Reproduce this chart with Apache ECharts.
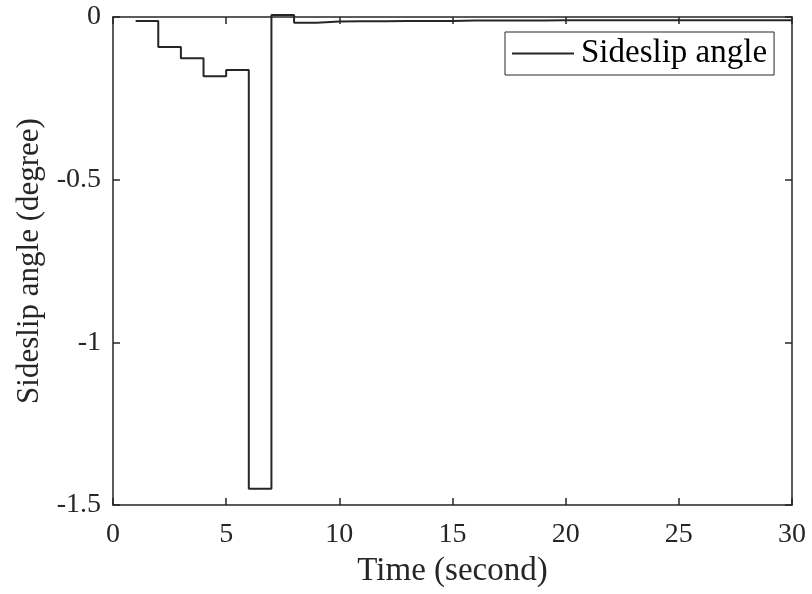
<!DOCTYPE html>
<html>
<head>
<meta charset="utf-8">
<script src="https://cdn.jsdelivr.net/npm/echarts@6/dist/echarts.min.js"></script>
<style>
  html, body { margin: 0; padding: 0; background: #fff; }
  #con { width: 812px; height: 594px; }
</style>
</head>
<body>
<div id="con"></div>
<script>
// time steps (second) and sideslip angle (degree), held constant over each step
var times = [1, 2, 3, 4, 5, 6, 7, 8, 9, 10, 11, 12, 13, 14, 15, 16, 17, 18, 19, 20,
             21, 22, 23, 24, 25, 26, 27, 28, 29, 30];
var sideslip = [-0.012, -0.092, -0.127, -0.182, -0.163, -1.45, 0.006, -0.018, -0.014, -0.013,
                -0.013, -0.012, -0.012, -0.012, -0.011, -0.011, -0.011, -0.011, -0.010, -0.010,
                -0.010, -0.010, -0.010, -0.010, -0.010, -0.010, -0.010, -0.010, -0.010, -0.010];
var xTicks = [0, 30, 5];
var yTicks = [-1.5, 0, 0.5];

var font = 'Liberation Serif';
var axisColor = '#262626';

var points = [];
for (var i = 0; i < times.length; i++) {
    points.push([times[i], sideslip[i]]);
}

var myChart = echarts.init(document.getElementById('con'));

var boxAxis = function(pos, ticks, showLabel, name) {
    return {
        type: 'value',
        position: pos,
        min: ticks[0], max: ticks[1], interval: ticks[2],
        name: name,
        nameLocation: 'middle',
        nameGap: pos === 'bottom' ? 50 : 64,
        nameTextStyle: {fontFamily: font, fontSize: pos === 'bottom' ? 33 : 31, color: axisColor},
        axisLine: {show: true, onZero: false, lineStyle: {color: axisColor, width: 1.5}},
        axisTick: {show: true, inside: true, length: 7, lineStyle: {color: axisColor, width: 1.5}},
        axisLabel: {show: showLabel, fontFamily: font, fontSize: 28, color: axisColor,
                    margin: pos === 'bottom' ? 16 : 12},
        splitLine: {show: false}
    };
};

option = {
    animation: false,
    backgroundColor: '#fff',
    grid: {left: 113, top: 17, right: 20, bottom: 89, containLabel: false},
    legend: {
        data: [{name: 'Sideslip angle', icon: 'rect'}],
        left: 505, top: 32,
        itemWidth: 62, itemHeight: 2,
        itemGap: 6,
        padding: [5, 7, 5, 7],
        borderColor: '#262626', borderWidth: 1,
        textStyle: {fontFamily: font, fontSize: 33, color: '#000', padding: [0, 0, 0, 2]}
    },
    xAxis: [
        boxAxis('bottom', xTicks, true, 'Time (second)'),
        boxAxis('top', xTicks, false, '')
    ],
    yAxis: [
        boxAxis('left', yTicks, true, 'Sideslip angle (degree)'),
        boxAxis('right', yTicks, false, '')
    ],
    series: [{
        name: 'Sideslip angle',
        type: 'line',
        step: 'end',
        data: points,
        symbol: 'none',
        clip: false,
        color: '#262626',
        lineStyle: {color: '#262626', width: 2}
    }]
};
myChart.setOption(option);
</script>
</body>
</html>
